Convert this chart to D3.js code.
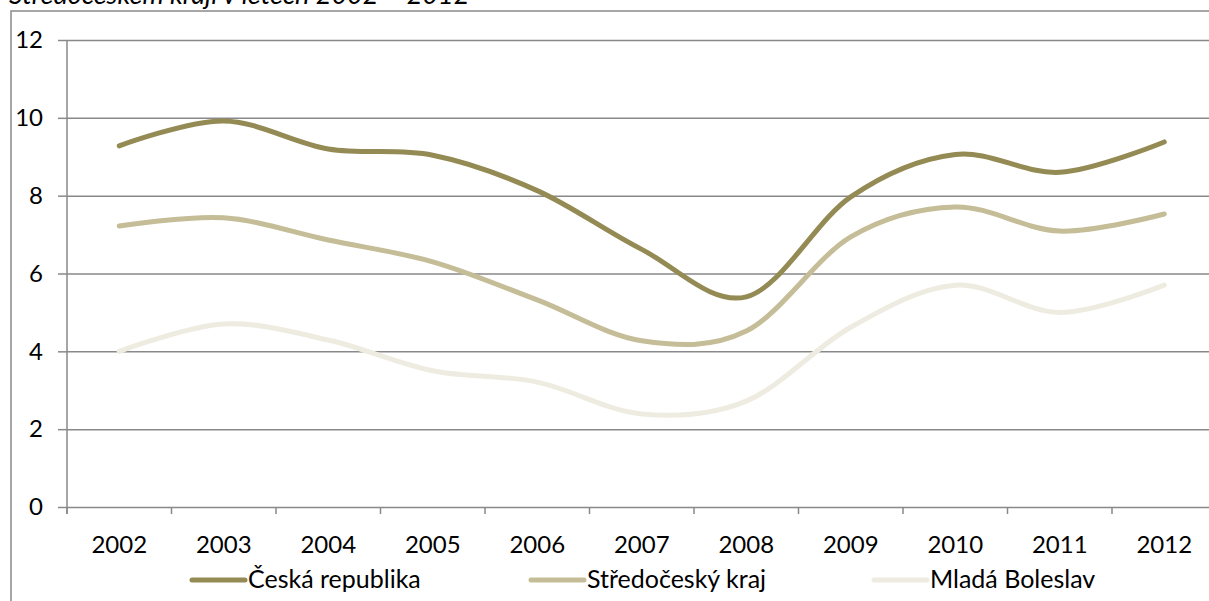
<!DOCTYPE html>
<html>
<head>
<meta charset="utf-8">
<script src="https://cdn.jsdelivr.net/npm/d3@7"></script>
<style>
  html, body { margin: 0; padding: 0; background: #fff; overflow: hidden; }
  svg { display: block; font-family: Lato, "Open Sans", sans-serif; }
</style>
</head>
<body>
<svg id="chart" width="1209" height="601"></svg>
<script>
const titleText = "Středočeském kraji v letech 2002 – 2012";
const years = ["2002","2003","2004","2005","2006","2007","2008","2009","2010","2011","2012"];
const seriesNames = ["Česká republika", "Středočeský kraj", "Mladá Boleslav"];
const ceskaRepublika = [9.28, 9.92, 9.2, 9.04, 8.13, 6.62, 5.4, 7.97, 9.06, 8.6, 9.38];
const stredoceskyKraj = [7.22, 7.43, 6.86, 6.3, 5.32, 4.27, 4.52, 6.94, 7.71, 7.09, 7.53];
const mladaBoleslav = [4.0, 4.7, 4.29, 3.5, 3.21, 2.39, 2.72, 4.62, 5.7, 5.0, 5.7];
const yTicks = [0, 2, 4, 6, 8, 10, 12];
const colors = ["#948A54", "#C4BD97", "#EEECE1"];

const svg = d3.select("#chart");
const W = 1209, H = 601;
const plot = { left: 67, right: 1216.5, top: 40, bottom: 507 };
const gridColor = "#898989";

const x = d3.scaleBand().domain(years).range([plot.left, plot.right]).padding(0);
const y = d3.scaleLinear().domain([0, 12]).range([plot.bottom, plot.top]);

// title (cut off at top edge, as in the source image)
svg.append("text")
  .attr("x", 9).attr("y", 4)
  .attr("font-style", "italic")
  .attr("font-size", 27)
  .attr("fill", "#000")
  .text(titleText);

// outer frame
svg.append("path")
  .attr("d", `M11,${H + 2} L11,11 L${W + 2},11`)
  .attr("fill", "none")
  .attr("stroke", gridColor)
  .attr("stroke-width", 1.5);

// gridlines + y axis
const yAxis = d3.axisLeft(y).tickValues(yTicks).tickSize(9).tickPadding(15).tickFormat(d3.format("d"));
const gy = svg.append("g").attr("transform", `translate(${plot.left},0)`).call(yAxis);
gy.select(".domain").attr("stroke", gridColor).attr("stroke-width", 1.5)
  .attr("d", `M0,${plot.top}V${plot.bottom + 7}`);
gy.selectAll(".tick line").attr("stroke", gridColor).attr("stroke-width", 1.5);
gy.selectAll(".tick text").attr("font-size", 24).attr("fill", "#000").attr("font-family", "Lato");
gy.selectAll(".tick").append("line")
  .attr("x1", 0).attr("x2", W - plot.left + 10)
  .attr("stroke", gridColor).attr("stroke-width", 1.5);

// x axis
const gx = svg.append("g").attr("transform", `translate(0,${plot.bottom})`);
const bounds = d3.range(years.length + 1).map(i => plot.left + i * x.step());
gx.selectAll("line.xt").data(bounds).join("line")
  .attr("class", "xt")
  .attr("x1", d => d).attr("x2", d => d)
  .attr("y1", 0).attr("y2", 7)
  .attr("stroke", gridColor).attr("stroke-width", 1.5);
gx.selectAll("text").data(years).join("text")
  .attr("x", d => x(d) + x.bandwidth() / 2)
  .attr("y", 46)
  .attr("text-anchor", "middle")
  .attr("font-size", 24)
  .attr("fill", "#000")
  .text(d => d);

// lines
const allSeries = [ceskaRepublika, stredoceskyKraj, mladaBoleslav];
const line = d3.line()
  .x((d, i) => x(years[i]) + x.bandwidth() / 2)
  .y(d => y(d))
  .curve(d3.curveCatmullRom.alpha(0));
[2, 1, 0].forEach(k => {
  svg.append("path")
    .datum(allSeries[k])
    .attr("d", line)
    .attr("fill", "none")
    .attr("stroke", colors[k])
    .attr("stroke-width", 5)
    .attr("stroke-linecap", "round")
    .attr("stroke-linejoin", "round");
});

// legend
const legendPos = [190, 529, 872];
const legendY = 580;
seriesNames.forEach((name, k) => {
  const g = svg.append("g").attr("transform", `translate(${legendPos[k]},${legendY})`);
  g.append("line")
    .attr("x1", 2).attr("x2", 55).attr("y1", 0).attr("y2", 0)
    .attr("stroke", colors[k]).attr("stroke-width", 5).attr("stroke-linecap", "round");
  g.append("text")
    .attr("x", 58).attr("y", 8)
    .attr("font-size", 25)
    .attr("fill", "#000")
    .text(name);
});
</script>
</body>
</html>
